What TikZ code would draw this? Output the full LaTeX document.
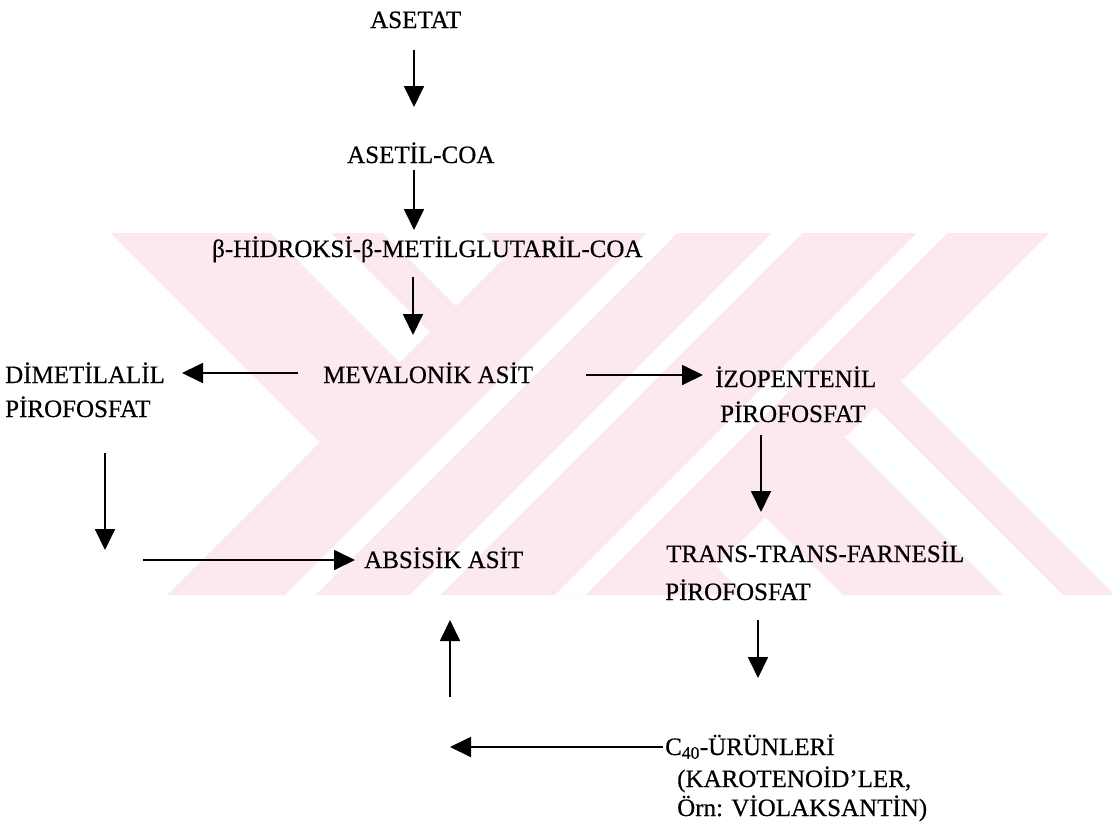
\documentclass[tikz,border=0pt]{standalone}
\usepackage{fontspec}
\setmainfont{Liberation Serif}
\newfontfamily\scanfont{Liberation Serif}[FakeBold=0.5]
\usetikzlibrary{arrows.meta,calc}
\definecolor{wmpink}{RGB}{252,233,237}
% watermark bands: \wmback{a1}{a2} fills x-y in [a1,a2]; \wmfwd{b1}{b2} fills x+y in [b1,b2]
\newcommand\wmback[2]{(#1+233,233) -- (#2+233,233) -- (#2+595,595) -- (#1+595,595) -- cycle}
\newcommand\wmfwd[2]{(#1-233,233) -- (#2-233,233) -- (#2-595,595) -- (#1-595,595) -- cycle}
\begin{document}
\begin{tikzpicture}[x=1pt,y=-1pt,
  lbl/.style={anchor=base west,inner sep=0pt,font=\scanfont\fontsize{25}{30}\selectfont},
  arr/.style={line width=1.8pt,-{Triangle[length=21pt,width=20pt]}},
  wm/.style={fill=wmpink},
  wmgap/.style={fill=white}]
\useasboundingbox[fill=white] (0,0) rectangle (1112,823);
% faint watermark
\begin{scope}
\clip (0,233) rectangle (1112,595);
\fill[wm] \wmback{-122}{150};
\fill[wm] \wmback{248}{520};
\fill[wmgap] \wmback{38}{98};
\fill[wmgap] \wmback{408}{468};
\fill[wm] \wmfwd{762}{1005};
\fill[wm] \wmfwd{1035}{1282};
\fill[wmgap] \wmfwd{880}{910};
\fill[wmgap] \wmfwd{1005}{1035};
\fill[wmgap] \wmfwd{1150}{1180};
\end{scope}
% labels
\node[lbl] (aset) at (370,28) {ASETAT};
\node[lbl] (acoa) at (347,163) {ASETİL-COA};
\node[lbl] (hmg) at (212,257) {β-HİDROKSİ-β-METİLGLUTARİL-COA};
\node[lbl] (mev) at (323,383) {MEVALONİK ASİT};
\node[lbl] (dma) at (5,383) {DİMETİLALİL};
\node[lbl] (dma2) at (5,417) {PİROFOSFAT};
\node[lbl] (ipp) at (715,387) {İZOPENTENİL};
\node[lbl] (ipp2) at (720,422) {PİROFOSFAT};
\node[lbl] (aba) at (364,568) {ABSİSİK ASİT};
\node[lbl] (fpp) at (666,562) {TRANS-TRANS-FARNESİL};
\node[lbl] (fpp2) at (665,600) {PİROFOSFAT};
\node[lbl] (c40) at (665,755) {C\textsubscript{40}-ÜRÜNLERİ};
\node[lbl] (c40b) at (677,787) {(KAROTENOİD’LER,};
\node[lbl] (c40c) at (677,816) {Örn: VİOLAKSANTİN)};
% arrows
\draw[arr] ($(aset.base west)+(44,22)$) -- ($(acoa.base west)+(67,-56)$);
\draw[arr] ($(acoa.base west)+(67,7)$) -- ($(hmg.base west)+(202,-27)$);
\draw[arr] ($(hmg.base west)+(201,20)$) -- ($(mev.base west)+(90,-48)$);
\draw[arr] ($(mev.base west)+(-25,-10)$) -- ($(dma.base west)+(177,-10)$);
\draw[arr] ($(mev.base west)+(263,-8)$) -- ($(ipp.base west)+(-12,-12)$);
\coordinate (bend) at ($(aba.base west)+(-259,-18)$);
\draw[arr] ($(dma2.base west)+(100,36)$) -- (bend);
\draw[arr] ($(aba.base west)+(-221,-8)$) -- ($(aba.base west)+(-9,-8)$);
\draw[arr] ($(ipp2.base west)+(41,13)$) -- ($(fpp.base west)+(95,-50)$);
\draw[arr] ($(fpp2.base west)+(93,20)$) -- ($(c40.base west)+(93,-77)$);
\coordinate (c40end) at ($(c40.base west)+(-215,-8)$);
\draw[arr] ($(c40.base west)+(-2,-8)$) -- (c40end);
\draw[arr] ($(c40.base west)+(-215,-58)$) -- ($(aba.base west)+(86,52)$);
\end{tikzpicture}
\end{document}
